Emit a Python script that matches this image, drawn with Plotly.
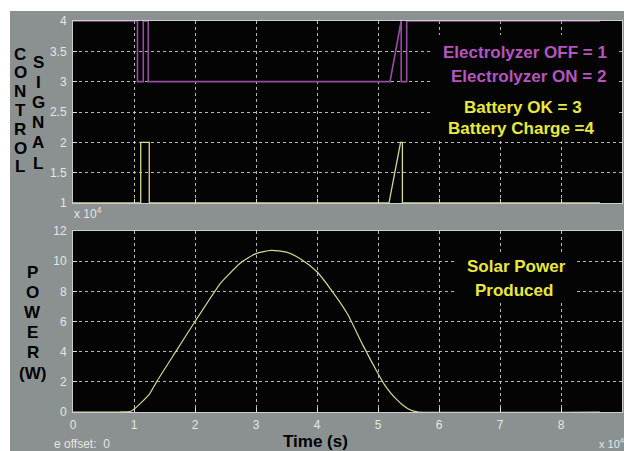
import plotly.graph_objects as go

# ---- data -------------------------------------------------------------
# control signal traces (time in seconds, signal level)
electro_t = [0, 10570, 10570, 11520, 11520, 12340, 12340, 51970, 53800, 53800, 54700, 54700, 86400]
electro_v = [4, 4, 3, 3, 4, 4, 3, 3, 4, 3, 3, 4, 4]

battery_t = [0, 11100, 11100, 12500, 12500, 51800, 53700, 54000, 54000, 86400]
battery_v = [1, 1, 2, 2, 1, 1, 2, 2, 1, 1]

# solar power produced (W)
solar_t = [0, 7700, 9500, 10000, 12500, 13700, 17000, 20000, 24100, 25000, 27500,
           30000, 32500, 35000, 37500, 40000, 42500, 45000, 47500, 50000, 51000,
           52000, 53000, 54000, 55000, 56000, 56600, 86400]
solar_p = [0, 0, 500, 1800, 11700, 20000, 41000, 60000, 85000, 89000, 99000,
           105000, 107200, 106000, 101000, 93000, 80000, 65000, 44500, 25500, 18500,
           13000, 8500, 4800, 2000, 400, 0, 0]

time_ticks = [0, 10000, 20000, 30000, 40000, 50000, 60000, 70000, 80000, 90000]
time_labels = ["0", "1", "2", "3", "4", "5", "6", "7", "8", "9"]
signal_ticks = [1, 1.5, 2, 2.5, 3, 3.5, 4]
signal_labels = ["1", "1.5", "2", "2.5", "3", "3.5", "4"]
power_ticks = [0, 20000, 40000, 60000, 80000, 100000, 120000]
power_labels = ["0", "2", "4", "6", "8", "10", "12"]

# ---- layout geometry (pixels) -------------------------------------------
W, H = 624, 451
PL, PR = 73, 622          # plot area left/right
PT, PB = 21, 412          # plot area top/bottom
TOP_BOTTOM = 203          # bottom of upper panel
LOW_TOP = 231             # top of lower panel


def px(x):
    return (x - PL) / (PR - PL)


def py(y):
    return (PB - y) / (PB - PT)


BG = "rgb(139,145,144)"
TICK = "rgb(228,230,230)"
GRID = "rgba(215,215,215,0.85)"
PURPLE = "rgb(150,78,160)"
PALE = "rgb(212,216,146)"
MAGENTA_TXT = "rgb(182,84,192)"
YELLOW_TXT = "rgb(232,232,62)"
PLOT_BG = "rgb(4,4,4)"
FONT = "Liberation Sans, Arial, sans-serif"

fig = go.Figure()

fig.add_trace(go.Scatter(x=electro_t, y=electro_v, mode="lines",
                         line=dict(color=PURPLE, width=1.6),
                         xaxis="x", yaxis="y", showlegend=False, cliponaxis=False))
fig.add_trace(go.Scatter(x=battery_t, y=battery_v, mode="lines",
                         line=dict(color=PALE, width=1.3),
                         xaxis="x", yaxis="y", showlegend=False, cliponaxis=False))
fig.add_trace(go.Scatter(x=solar_t, y=solar_p, mode="lines",
                         line=dict(color=PALE, width=1.2, shape="spline", smoothing=0.6),
                         xaxis="x2", yaxis="y2", showlegend=False, cliponaxis=False))

axis_common = dict(
    showgrid=True, gridcolor=GRID, griddash="dot", gridwidth=1,
    showline=True, linecolor="rgb(205,205,205)", linewidth=1, mirror=True,
    ticks="inside", ticklen=4, tickcolor="rgb(220,220,220)",
    zeroline=False, layer="below traces",
    tickfont=dict(family=FONT, size=12, color=TICK),
)

fig.update_layout(
    width=W, height=H, autosize=False,
    margin=dict(l=PL, r=W - PR, t=PT, b=H - PB, pad=0),
    paper_bgcolor=BG, plot_bgcolor=PLOT_BG,
    xaxis=dict(axis_common, domain=[0, 1], anchor="y", range=[0, 90000],
               tickvals=time_ticks, ticktext=time_labels, showticklabels=False),
    yaxis=dict(axis_common, domain=[py(TOP_BOTTOM), 1], anchor="x", range=[1, 4],
               tickvals=signal_ticks, ticktext=signal_labels, ticklabelstandoff=3),
    xaxis2=dict(axis_common, domain=[0, 1], anchor="y2", range=[0, 90000],
                tickvals=time_ticks, ticktext=time_labels, matches="x",
                ticklabelstandoff=2),
    yaxis2=dict(axis_common, domain=[0, py(LOW_TOP)], anchor="x2", range=[0, 120000],
                tickvals=power_ticks, ticktext=power_labels, ticklabelstandoff=3),
)

# white border strips along the top and left edges of the window
fig.add_shape(type="rect", xref="paper", yref="paper", layer="above",
              x0=px(-5), x1=px(W + 5), y0=py(11), y1=py(-5),
              fillcolor="white", line=dict(width=0))
fig.add_shape(type="rect", xref="paper", yref="paper", layer="above",
              x0=px(-5), x1=px(10), y0=py(H + 5), y1=py(-5),
              fillcolor="white", line=dict(width=0))

# black text boxes that hide the grid behind the in-plot captions
fig.add_shape(type="rect", xref="paper", yref="paper", layer="above",
              x0=px(432), x1=px(618), y0=py(141), y1=py(35),
              fillcolor=PLOT_BG, line=dict(width=0))
fig.add_shape(type="rect", xref="paper", yref="paper", layer="above",
              x0=px(456), x1=px(576), y0=py(302), y1=py(253),
              fillcolor=PLOT_BG, line=dict(width=0))

annotations = []


def label(text, x, y, color="black", size=17, bold=True, xanchor="center"):
    annotations.append(dict(
        text=f"<b>{text}</b>" if bold else text,
        x=px(x), y=py(y), xref="paper", yref="paper",
        xanchor=xanchor, yanchor="middle", showarrow=False,
        font=dict(family=FONT, size=size, color=color),
    ))


# stacked axis titles
for i, ch in enumerate("CONTROL"):
    label(ch, 20, 54 + i * 18.8)
for i, ch in enumerate("SIGNAL"):
    label(ch, 38, 62 + i * 20.2)
for i, ch in enumerate(["P", "O", "W", "E", "R", "(W)"]):
    label(ch, 33, 272 + i * 20.2)

label("Time (s)", 315, 441)

# signal legend text
label("Electrolyzer OFF = 1", 525, 53, MAGENTA_TXT)
label("Electrolyzer ON = 2", 528, 76, MAGENTA_TXT)
label("Battery OK = 3", 523, 107, YELLOW_TXT)
label("Battery Charge =4", 521, 128, YELLOW_TXT)

# power panel text
label("Solar Power", 516, 266, YELLOW_TXT)
label("Produced", 514, 290, YELLOW_TXT)

# exponent labels and offset readout
label("x 10<sup>4</sup>", 72, 213, TICK, size=12, bold=False, xanchor="left")
label("x 10<sup>4</sup>", 597, 443, TICK, size=11, bold=False, xanchor="left")
label("e offset:  0", 52, 444, TICK, size=12, bold=False, xanchor="left")

fig.update_layout(annotations=annotations)

fig.write_html("out.html")
